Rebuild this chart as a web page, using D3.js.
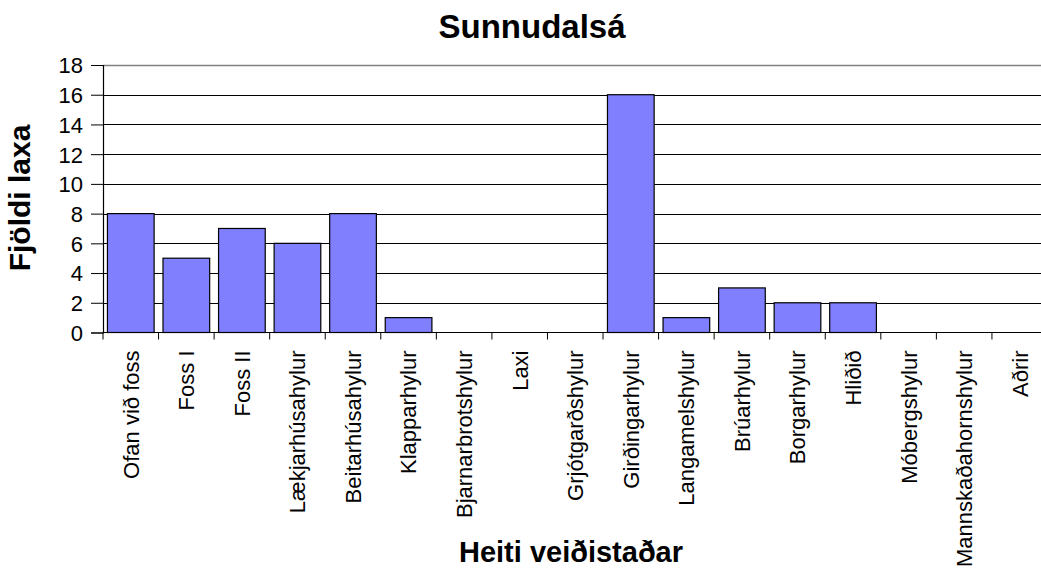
<!DOCTYPE html>
<html>
<head>
<meta charset="utf-8">
<script src="https://cdn.jsdelivr.net/npm/d3@7"></script>
<style>
html, body { margin: 0; padding: 0; background: #fff; }
svg { display: block; font-family: "Liberation Sans", Arial, sans-serif; }
</style>
</head>
<body>
<svg id="chart" width="1041" height="568"></svg>
<script>
const title = "Sunnudalsá";
const yTitle = "Fjöldi laxa";
const xTitle = "Heiti veiðistaðar";
const categories = ["Ofan við foss", "Foss I", "Foss II", "Lækjarhúsahylur", "Beitarhúsahylur",
  "Klapparhylur", "Bjarnarbrotshylur", "Laxi", "Grjótgarðshylur", "Girðingarhylur",
  "Langamelshylur", "Brúarhylur", "Borgarhylur", "Hliðið", "Móbergshylur",
  "Mannskaðahornshylur", "Aðrir"];
const values = [8, 5, 7, 6, 8, 1, 0, 0, 0, 16, 1, 3, 2, 2, 0, 0, 0];
const yTicks = [0, 2, 4, 6, 8, 10, 12, 14, 16, 18];

const svg = d3.select("#chart");
const mLeft = 103, mRight = 1047.5, mTop = 65, mBottom = 332.5;

const x = d3.scaleBand().domain(categories).range([mLeft, mRight]).paddingInner(0.16).paddingOuter(0.08);
const y = d3.scaleLinear().domain([0, 18]).range([mBottom, mTop]);

// gridlines
svg.append("g").selectAll("line").data(yTicks.filter(d => d > 0 && d < 18)).join("line")
  .attr("x1", mLeft).attr("x2", mRight)
  .attr("y1", d => Math.round(y(d)) + 0.5).attr("y2", d => Math.round(y(d)) + 0.5)
  .attr("stroke", "#000").attr("stroke-width", 1);
// plot border top
svg.append("line").attr("x1", mLeft).attr("x2", mRight)
  .attr("y1", Math.round(y(18)) + 0.5).attr("y2", Math.round(y(18)) + 0.5)
  .attr("stroke", "#808080").attr("stroke-width", 1.5);

// bars
svg.append("g").selectAll("rect").data(categories).join("rect")
  .attr("x", d => x(d)).attr("width", x.bandwidth())
  .attr("y", (d, i) => y(values[i])).attr("height", (d, i) => y(0) - y(values[i]))
  .attr("fill", "#8080FF").attr("stroke", "#000").attr("stroke-width", 1.2);

// y axis
const yAxis = svg.append("g").attr("transform", `translate(${mLeft},0)`)
  .call(d3.axisLeft(y).tickValues(yTicks).tickSize(12).tickPadding(8).tickFormat(d3.format("d")));
yAxis.select(".domain").attr("stroke", "#000").attr("stroke-width", 1.2);
yAxis.selectAll(".tick line").attr("stroke", "#000");
yAxis.selectAll(".tick text").attr("font-size", 22).attr("fill", "#000")
  .attr("font-family", "'Liberation Sans', Arial, sans-serif").attr("dy", "0.36em");

// x axis
const xTickPos = categories.map(c => x(c) - x.step() * x.paddingInner() / 2);
const xAxis = svg.append("g").attr("transform", `translate(0,${mBottom})`);
xAxis.append("line").attr("x1", mLeft).attr("x2", mRight).attr("y1", 0).attr("y2", 0)
  .attr("stroke", "#000").attr("stroke-width", 1.2);
xAxis.selectAll("line.tk").data(xTickPos).join("line").attr("class", "tk")
  .attr("x1", d => d).attr("x2", d => d).attr("y1", 0).attr("y2", 7)
  .attr("stroke", "#000");
xAxis.selectAll("text").data(categories).join("text")
  .attr("transform", d => `translate(${x(d) + x.bandwidth() / 2},18) rotate(-90)`)
  .attr("text-anchor", "end").attr("dy", "0.36em")
  .attr("font-size", 22).attr("fill", "#000")
  .text(d => d);

// titles
svg.append("text").attr("x", 532).attr("y", 38).attr("text-anchor", "middle")
  .attr("font-size", 33).attr("font-weight", "bold").text(title);
svg.append("text").attr("x", 571).attr("y", 562).attr("text-anchor", "middle")
  .attr("font-size", 29).attr("font-weight", "bold").text(xTitle);
svg.append("text").attr("transform", "translate(30,198) rotate(-90)").attr("text-anchor", "middle")
  .attr("font-size", 30).attr("font-weight", "bold").text(yTitle);
</script>
</body>
</html>
